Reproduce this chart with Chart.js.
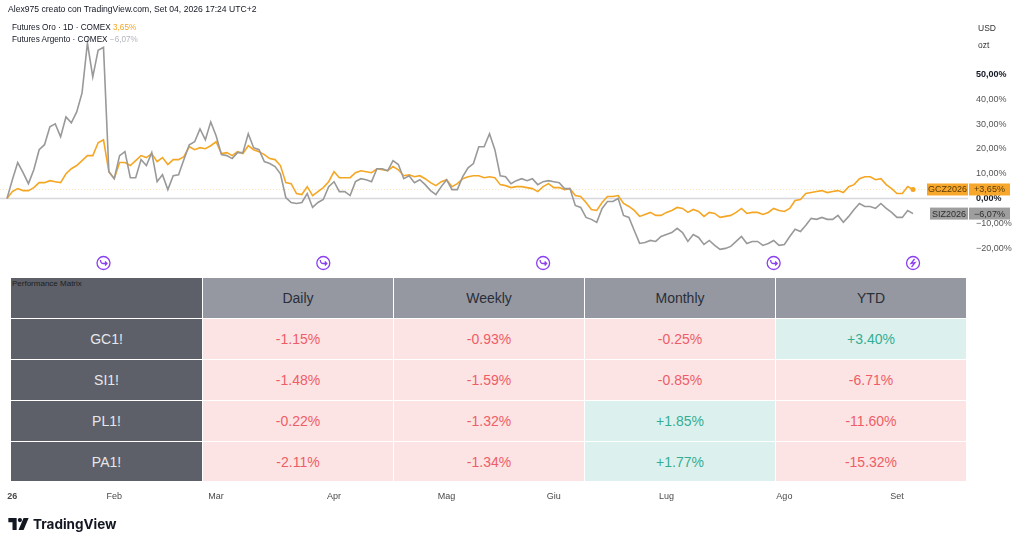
<!DOCTYPE html>
<html>
<head>
<meta charset="utf-8">
<script src="https://cdn.jsdelivr.net/npm/chart.js@4.4.1/dist/chart.umd.min.js"></script>
<style>
  body { margin: 0; background: #fff; font-family: "Liberation Sans", Arial, sans-serif; }
  #wrap { position: relative; width: 1024px; height: 545px; overflow: hidden; }
  #c { position: absolute; left: 0; top: 0; }
  .txt { position: absolute; white-space: nowrap; color: #131722; }
  #perf { position: absolute; left: 11px; top: 278px; display: grid;
          grid-template-columns: 191px 190px 190px 190px 190px;
          grid-template-rows: 40px 40px 40px 40px 39px;
          gap: 1px; background: #fff; }
  #perf div { display: flex; align-items: center; justify-content: center; font-size: 14px; }
  #perf .corner { background: #5d6068; position: relative; }
  #perf .corner span { position: absolute; left: 1px; top: 1px; font-size: 8px; color: #1e1e1e; }
  #perf .head { background: #9598a1; color: #2a2e39; }
  #perf .sym { background: #5d6068; color: #e6e7ea; }
  #perf .neg { background: #fce4e4; color: #ee5d67; }
  #perf .pos { background: #dcf1ee; color: #35ad93; }
</style>
</head>
<body>
<div id="wrap">
  <canvas id="c" width="1024" height="545"></canvas>
  <div class="txt" style="left:8px;top:4px;font-size:8.6px;">Alex975 creato con TradingView.com, Set 04, 2026 17:24 UTC+2</div>
  <div class="txt" style="left:12px;top:23px;font-size:8.2px;">Futures Oro · 1D · COMEX <span style="color:#f5a623">3,65%</span></div>
  <div class="txt" style="left:12px;top:35px;font-size:8.2px;">Futures Argento · COMEX <span style="color:#b2b5be">−6,07%</span></div>
  <div class="txt" style="left:978px;top:23px;font-size:8.5px;color:#333;">USD</div>
  <div class="txt" style="left:978px;top:40px;font-size:8.5px;color:#333;">ozt</div>
  <div id="perf"></div>
  <div class="txt" style="left:8px;top:516px;font-size:13.5px;font-weight:bold;font-family:Inter, sans-serif;display:flex;align-items:center;">
    <svg width="21" height="12" viewBox="0 0 22 13" style="margin-right:4px">
      <path d="M0 0H9V13H4.5V4.5H0Z" fill="#131722"/>
      <circle cx="12.5" cy="2.3" r="2.3" fill="#131722"/>
      <path d="M16.5 0H22L16.5 13H11Z" fill="#131722"/>
    </svg>TradingView</div>
</div>
<script>
// percent change since start, one value per trading day
var gold = [0,2.8,4.0,3.2,3.2,4.4,6.4,6.4,7.2,6.8, 6.4,10.0,12.0,13.3,15.3,17.3,17.3,22.5,23.7,10.8,
  8.0,14.5,14.5,13.3,15.3,17.3,16.5,18.1,14.9,16.5, 13.7,15.7,15.7,16.9,20.9,19.7,20.5,20.1,21.3,22.9,
  18.1,18.5,17.3,18.9,18.1,21.3,19.7,18.9,17.7,16.1, 15.7,13.3,6.4,6.0,2.0,1.6,4.8,1.2,2.8,4.4,
  6.8,10.8,8.4,8.4,8.4,10.4,11.2,10.8,10.4,12.0, 11.6,11.2,12.9,11.6,9.2,9.6,8.8,9.2,8.0,6.4,
  5.2,6.8,7.6,4.8,6.0,8.0,8.8,9.2,9.2,8.4, 8.8,8.4,5.6,5.2,4.4,4.8,4.8,4.4,4.0,2.8,
  4.8,6.0,4.4,4.4,3.6,4.0,1.2,0.8,-1.6,-4.4, -4.8,-1.6,0.8,0.8,1.2,-2.0,-3.2,-4.8,-7.2,-6.4,
  -5.6,-6.8,-6.8,-5.6,-4.8,-3.6,-4.0,-5.6,-4.4,-5.2, -7.2,-5.6,-6.0,-7.6,-7.2,-6.8,-5.6,-4.0,-6.0,-5.6,
  -5.6,-6.4,-5.6,-4.0,-4.8,-5.2,-4.0,-0.8,-0.4,2.0, 2.4,2.8,3.2,2.4,2.8,3.2,2.4,4.8,5.6,8.0,
  8.8,8.8,7.6,8.0,5.6,4.0,2.0,2.0,4.8,3.65];
var silver = [0,7.6,14.5,10.4,6.0,11.6,19.7,21.7,28.9,30.1, 24.9,32.9,30.5,34.9,42.6,62.7,49.0,59.8,61.0,10.8,
  8.0,17.3,18.9,8.4,8.4,15.7,13.3,18.5,6.8,9.6, 3.6,9.2,9.6,15.7,21.7,22.9,28.1,23.7,30.9,25.3,
  17.7,17.3,16.1,18.5,18.5,26.1,20.5,19.7,14.9,14.1, 12.9,10.0,0.4,-1.6,-2.0,-1.6,2.0,-3.6,-1.6,-0.4,
  4.8,6.8,2.8,2.8,1.2,6.8,8.0,7.6,6.8,12.0, 12.0,11.2,15.3,13.7,8.0,9.2,6.4,7.6,5.6,3.2,
  1.6,4.8,7.6,3.6,3.6,8.8,12.4,14.1,20.9,20.9, 26.1,19.7,9.2,8.8,6.0,7.2,8.0,7.2,8.0,5.6,
  6.8,7.2,6.8,6.4,4.0,4.0,-2.8,-3.6,-7.6,-8.4, -9.6,-4.0,-1.2,-1.2,0,-6.8,-7.6,-12.9,-18.1,-17.7,
  -16.9,-17.3,-15.3,-14.5,-13.7,-12.0,-13.7,-17.3,-14.5,-15.7, -18.5,-16.9,-18.9,-20.5,-20.1,-19.3,-17.3,-15.3,-18.1,-17.3,
  -17.3,-18.9,-18.1,-16.9,-18.9,-18.5,-15.3,-12.4,-13.3,-10.8, -8.0,-8.4,-7.6,-8.4,-8.4,-6.8,-9.6,-7.2,-4.4,-2.0,
  -3.2,-3.2,-4.0,-2.0,-4.0,-5.6,-7.6,-7.6,-4.8,-6.07];

var monthDays = [1, 20, 39, 61, 82, 102, 123, 145, 166];
var monthLabels = ['26', 'Feb', 'Mar', 'Apr', 'Mag', 'Giu', 'Lug', 'Ago', 'Set'];
var yTicks = [-20, -10, 0, 10, 20, 30, 40, 50];
var eventDays = [18, 59, 100, 143];
var flashDay = 169;

var perfSymbols = ['GC1!', 'SI1!', 'PL1!', 'PA1!'];
var perfPeriods = ['Daily', 'Weekly', 'Monthly', 'YTD'];
var perfDaily = [-1.15, -1.48, -0.22, -2.11];
var perfWeekly = [-0.93, -1.59, -1.32, -1.34];
var perfMonthly = [-0.25, -0.85, 1.85, 1.77];
var perfYtd = [3.40, -6.71, -11.60, -15.32];

// performance table
var tbl = document.getElementById('perf');
function cell(cls, text) {
  var d = document.createElement('div');
  d.className = cls;
  d.innerHTML = text;
  tbl.appendChild(d);
}
cell('corner', '<span>Performance Matrix</span>');
perfPeriods.forEach(function(p) { cell('head', p); });
var cols = [perfDaily, perfWeekly, perfMonthly, perfYtd];
perfSymbols.forEach(function(s, r) {
  cell('sym', s);
  cols.forEach(function(col) {
    var v = col[r];
    cell(v >= 0 ? 'pos' : 'neg', (v >= 0 ? '+' : '') + v.toFixed(2) + '%');
  });
});

function pct(v, sign) {
  var s = Math.abs(v).toFixed(2).replace('.', ',') + '%';
  if (v < 0) return '−' + s;
  return (sign ? '+' : '') + s;
}

var GOLD = '#f5a623';
var GREY = '#999999';

var extras = {
  id: 'extras',
  beforeDatasetsDraw: function(chart) {
    var ctx = chart.ctx, a = chart.chartArea, y = chart.scales.y;
    ctx.save();
    // zero line
    ctx.strokeStyle = '#d6d8dd';
    ctx.lineWidth = 1.5;
    ctx.beginPath();
    ctx.moveTo(a.left, y.getPixelForValue(0));
    ctx.lineTo(a.right, y.getPixelForValue(0));
    ctx.stroke();
    // last gold value dotted line
    var gy = Math.round(y.getPixelForValue(gold[gold.length - 1])) + 0.5;
    ctx.strokeStyle = 'rgba(245,166,35,0.3)';
    ctx.lineWidth = 1;
    ctx.setLineDash([1, 2]);
    ctx.beginPath();
    ctx.moveTo(a.left, gy);
    ctx.lineTo(927, gy);
    ctx.stroke();
    ctx.restore();
  },
  afterDatasetsDraw: function(chart) {
    var ctx = chart.ctx, x = chart.scales.x, y = chart.scales.y;
    ctx.save();
    // last point dot
    var lg = gold.length - 1;
    ctx.fillStyle = GOLD;
    ctx.beginPath();
    ctx.arc(x.getPixelForValue(lg), y.getPixelForValue(gold[lg]), 2.5, 0, Math.PI * 2);
    ctx.fill();

    // price scale labels
    function tag(val, name, bg, fg, left) {
      var py = y.getPixelForValue(val);
      ctx.fillStyle = bg;
      ctx.fillRect(left, py - 6, 968 - left, 12);
      ctx.fillRect(969, py - 6, 41, 12);
      ctx.fillStyle = fg;
      ctx.font = '9px "Liberation Sans", Arial, sans-serif';
      ctx.textBaseline = 'middle';
      ctx.textAlign = 'center';
      ctx.fillText(name, (left + 968) / 2, py + 0.5);
      ctx.fillText(pct(val, true), 989.5, py + 0.5);
    }
    tag(gold[lg], 'GCZ2026', '#f7a72c', '#5a3a05', 927);
    tag(silver[silver.length - 1], 'SIZ2026', '#9e9e9e', '#2e2e2e', 930);

    // event markers
    var ey = y.getPixelForValue(-26);
    ctx.strokeStyle = '#8a3ff0';
    ctx.fillStyle = '#ffffff';
    ctx.lineWidth = 1.3;
    eventDays.concat([flashDay]).forEach(function(d) {
      var ex = x.getPixelForValue(d);
      ctx.beginPath();
      ctx.arc(ex, ey, 6.5, 0, Math.PI * 2);
      ctx.fill();
      ctx.stroke();
      ctx.beginPath();
      if (d === flashDay) {
        ctx.moveTo(ex + 1.5, ey - 4);
        ctx.lineTo(ex - 2, ey + 0.5);
        ctx.lineTo(ex + 2, ey - 0.5);
        ctx.lineTo(ex - 1.5, ey + 4);
      } else {
        ctx.moveTo(ex - 3, ey - 3);
        ctx.quadraticCurveTo(ex - 3, ey + 0.5, ex, ey + 0.5);
        ctx.lineTo(ex + 3.5, ey + 0.5);
        ctx.moveTo(ex + 1.5, ey - 1.5);
        ctx.lineTo(ex + 3.5, ey + 0.5);
        ctx.lineTo(ex + 1.5, ey + 2.5);
      }
      ctx.stroke();
    });
    ctx.restore();
  }
};

var ctx = document.getElementById('c');
new Chart(ctx, {
  type: 'line',
  data: {
    datasets: [
      {
        label: 'Futures Argento',
        data: silver.map(function(v, i) { return { x: i, y: v }; }),
        borderColor: GREY,
        borderWidth: 1.6,
        pointRadius: 0,
        tension: 0
      },
      {
        label: 'Futures Oro',
        data: gold.map(function(v, i) { return { x: i, y: v }; }),
        borderColor: GOLD,
        borderWidth: 1.6,
        pointRadius: 0,
        tension: 0
      }
    ]
  },
  options: {
    responsive: false,
    animation: false,
    layout: { padding: { top: 14, bottom: 40, left: 0, right: 0 } },
    plugins: { legend: { display: false }, tooltip: { enabled: false } },
    scales: {
      x: {
        type: 'linear',
        min: -1.306,
        max: 179.25,
        grid: { display: false, drawTicks: false },
        border: { display: false },
        afterBuildTicks: function(scale) {
          scale.ticks = monthDays.map(function(d) { return { value: d }; });
        },
        afterFit: function(scale) { scale.height = 20; },
        ticks: {
          autoSkip: false,
          maxRotation: 0,
          padding: 6,
          color: '#4a4a4a',
          font: function(c) {
            return { size: 9, family: '"Liberation Sans", Arial, sans-serif', weight: c.index === 0 ? 'bold' : 'normal' };
          },
          callback: function(v, i) { return monthLabels[i]; }
        }
      },
      y: {
        position: 'right',
        min: -115.5,
        max: 74.4,
        grid: { display: false, drawTicks: false },
        border: { display: false },
        afterBuildTicks: function(scale) {
          scale.ticks = yTicks.map(function(v) { return { value: v }; });
        },
        afterFit: function(scale) { scale.width = 56; },
        ticks: {
          padding: 8,
          color: function(c) { return (c.tick.value === 0 || c.tick.value === 50) ? '#131722' : '#555555'; },
          font: function(c) {
            var b = c.tick && (c.tick.value === 0 || c.tick.value === 50);
            return { size: 9, family: '"Liberation Sans", Arial, sans-serif', weight: b ? 'bold' : 'normal' };
          },
          callback: function(v) { return pct(v, false); }
        }
      }
    }
  },
  plugins: [extras]
});
</script>
</body>
</html>
